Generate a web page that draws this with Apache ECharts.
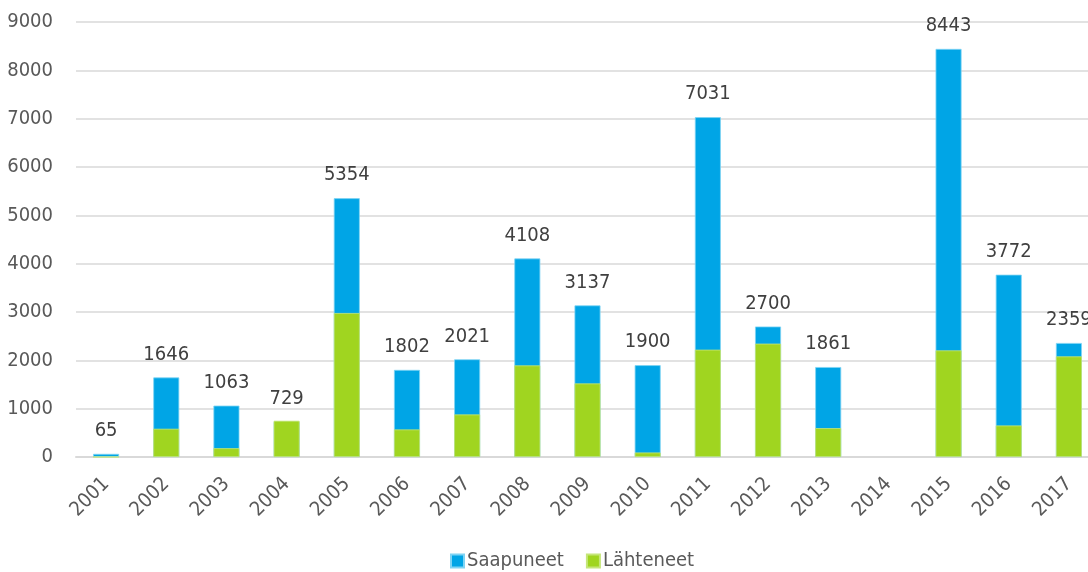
<!DOCTYPE html>
<html>
<head>
<meta charset="utf-8">
<script src="https://cdn.jsdelivr.net/npm/echarts@6/dist/echarts.min.js"></script>
<style>
  html, body { margin: 0; padding: 0; background: #fff; }
  #chart { width: 1088px; height: 572px; }
</style>
</head>
<body>
<div id="chart"></div>
<script>
// Vuosittaiset luvut
const years = ['2001', '2002', '2003', '2004', '2005', '2006', '2007', '2008', '2009',
  '2010', '2011', '2012', '2013', '2014', '2015', '2016', '2017'];
const saapuneet = [65, 1646, 1063, 729, 5354, 1802, 2021, 4108, 3137,
  1900, 7031, 2700, 1861, null, 8443, 3772, 2359];
const lahteneet = [0, 584, 182, 750, 2979, 570, 880, 1895, 1522,
  93, 2220, 2345, 597, null, 2206, 652, 2082];
const yTicks = [0, 1000, 2000, 3000, 4000, 5000, 6000, 7000, 8000, 9000];

const FONT = '"DejaVu Sans Condensed", "Liberation Sans Narrow", sans-serif';
const BLUE = '#00A5E6';
const GREEN = '#A0D520';

const chart = echarts.init(document.getElementById('chart'));
chart.setOption({
  animation: false,
  textStyle: { fontFamily: FONT },
  // the plot runs a little past the right edge of the canvas
  grid: { left: 76, width: 1023, top: 22, height: 435, outerBoundsMode: 'none', containLabel: false },
  legend: {
    top: 546,
    left: 445,
    itemWidth: 13,
    itemHeight: 13,
    itemGap: 22,
    icon: 'rect',
    textStyle: { fontFamily: FONT, fontSize: 20, color: '#595959', padding: [0, 0, 0, -2] },
    data: ['Saapuneet', 'Lähteneet']
  },
  xAxis: {
    type: 'category',
    data: years,
    axisTick: { show: false },
    axisLine: { lineStyle: { color: '#D9D9D9', width: 2 } },
    axisLabel: {
      rotate: 45,
      fontSize: 20,
      color: '#595959',
      fontFamily: FONT,
      margin: 24
    }
  },
  yAxis: {
    type: 'value',
    min: yTicks[0],
    max: yTicks[yTicks.length - 1],
    interval: 1000,
    axisLine: { show: false },
    axisTick: { show: false },
    splitLine: { lineStyle: { color: '#D9D9D9', width: 1.5 } },
    axisLabel: {
      fontSize: 20, color: '#595959', fontFamily: FONT, margin: 23,
      formatter: v => String(v)
    }
  },
  series: [
    {
      name: 'Saapuneet',
      type: 'bar',
      data: saapuneet,
      barWidth: 26,
      barGap: '-100%',
      itemStyle: { color: BLUE, borderColor: '#7FD4F4', borderWidth: 0.8 },
      label: {
        show: true,
        position: 'top',
        distance: 13,
        fontSize: 20,
        color: '#404040',
        fontFamily: FONT
      }
    },
    {
      name: 'Lähteneet',
      type: 'bar',
      data: lahteneet,
      barWidth: 26,
      barGap: '-100%',
      itemStyle: { color: GREEN, borderColor: '#C5E67A', borderWidth: 0.8 }
    }
  ]
});
</script>
</body>
</html>
